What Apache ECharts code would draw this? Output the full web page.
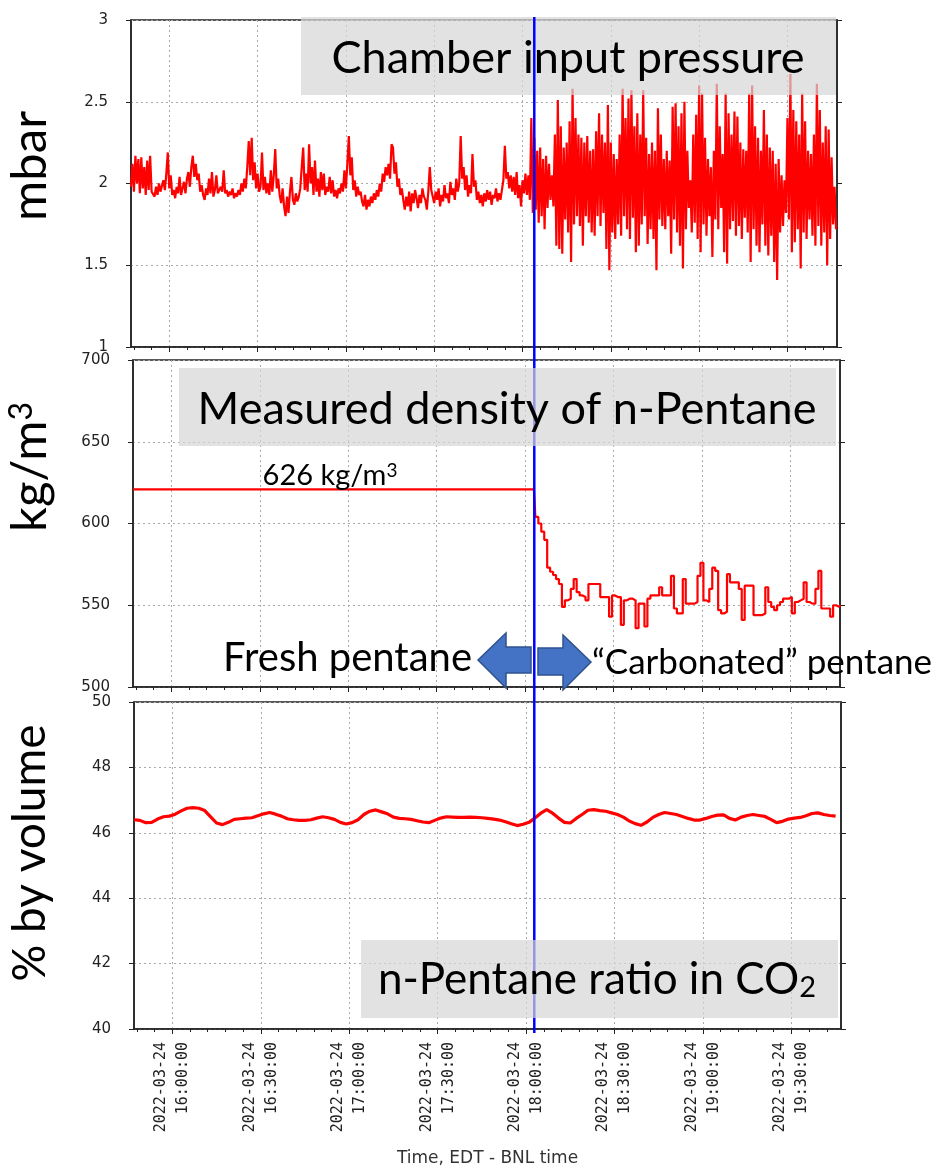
<!DOCTYPE html>
<html>
<head>
<meta charset="utf-8">
<script src="https://cdn.jsdelivr.net/npm/echarts@6/dist/echarts.min.js"></script>
<style>
  html, body { margin: 0; padding: 0; background: #fff; }
  #myChart { width: 940px; height: 1168px; }
</style>
</head>
<body>
<div id="myChart"></div>
<script>
// time range shared by the three panels
const day = '2022-03-24';
const startTime = new Date(day + 'T15:47:00').getTime();
const endTime = new Date(day + 'T19:46:50').getTime();
const changeTime = new Date(day + 'T18:04:00').getTime(); // blue marker
const densityStart = new Date(day + 'T18:03:00').getTime();
const MIN = 60 * 1000;

// labelled time ticks
const timeTicks = ['16:00', '16:30', '17:00', '17:30', '18:00', '18:30', '19:00', '19:30'];

// chamber input pressure, mbar, one reading every 30 s from 15:47:00
const pressure = [
  1.98, 2.12, 1.95, 2.17, 2.00, 2.15, 1.94, 2.16, 1.97, 2.10, 1.93, 2.14, 1.96, 2.17, 1.95,
  1.96, 1.92, 1.98, 1.93, 2.00, 1.95, 1.94, 2.02, 1.96, 2.06, 2.19, 1.97, 2.05, 1.93, 1.96,
  1.91, 1.98, 1.94, 2.04, 1.93, 1.97, 2.01, 1.94, 2.03, 2.07, 1.98, 2.10, 2.17, 2.04, 2.12,
  2.02, 2.06, 1.95, 1.99, 1.93, 1.90, 1.97, 1.93, 2.03, 1.94, 2.07, 1.92, 1.96, 2.05, 1.94,
  1.93, 1.98, 1.95, 2.08, 1.94, 1.96, 1.92, 1.95, 1.93, 1.97, 1.91, 1.94, 1.92, 1.96, 1.93,
  2.00, 1.95, 2.03, 1.97, 2.10, 2.26, 2.05, 2.28, 2.02, 2.13, 1.97, 2.06, 1.95, 1.98, 2.19,
  1.96, 2.04, 1.94, 2.00, 1.93, 2.08, 1.95, 2.05, 2.21, 1.97, 2.03, 1.93, 1.88, 1.97, 1.86,
  1.80, 1.92, 1.82, 1.95, 2.04, 1.90, 1.87, 1.94, 1.89, 1.92, 1.97, 2.10, 2.22, 1.96, 2.06,
  1.95, 2.24, 2.00, 2.10, 1.93, 2.14, 1.95, 2.03, 1.92, 2.07, 1.96, 2.06, 1.93, 1.98, 1.95,
  2.04, 1.94, 2.02, 1.92, 1.96, 1.91, 1.97, 1.94, 2.00, 1.95, 2.08, 1.97, 2.12, 2.29, 2.05,
  2.16, 1.96, 2.02, 1.92, 1.98, 1.93, 1.95, 1.89, 1.86, 1.93, 1.84, 1.90, 1.86, 1.92, 1.88,
  1.94, 1.90, 1.96, 1.92, 2.00, 1.95, 2.06, 2.01, 2.10, 2.05, 2.12, 2.03, 2.24, 2.22, 2.06,
  2.13, 1.98, 2.03, 1.93, 1.97, 1.90, 1.84, 1.92, 1.86, 1.95, 1.83, 1.94, 1.88, 1.96, 1.91,
  1.85, 1.93, 1.88, 1.97, 1.92, 1.90, 1.84, 1.95, 2.10, 1.96, 1.92, 1.88, 1.95, 1.90, 1.97,
  1.86, 1.93, 1.89, 1.99, 1.91, 1.94, 1.88, 2.01, 1.93, 1.97, 1.90, 2.03, 1.95, 2.00, 2.29,
  2.03, 2.10, 1.96, 2.05, 1.92, 1.99, 1.94, 2.18, 1.98, 2.02, 1.90, 1.95, 1.88, 1.93, 1.86,
  1.94, 1.89, 1.96, 1.90, 1.95, 1.87, 1.93, 1.91, 1.97, 1.89, 1.94, 1.90, 1.96, 2.02, 2.23,
  2.03, 2.07, 1.97, 2.05, 1.95, 2.04, 1.93, 2.07, 1.91, 1.99, 1.86, 2.02, 1.94, 2.06, 1.93,
  2.05, 1.90, 2.40,
  // after the switch to carbonated pentane
  1.82, 2.28, 1.84, 2.20, 1.76, 2.22, 1.80, 2.15, 1.72, 2.17, 1.85, 2.12, 1.90, 2.05, 1.86,
  2.30, 1.62, 2.51, 1.60, 2.35, 1.57, 2.22, 1.78, 2.25, 1.70, 2.38, 1.52, 2.58, 1.75, 2.40,
  1.80, 2.30, 1.74, 2.28, 1.62, 2.25, 1.80, 2.29, 1.76, 2.20, 1.70, 2.21, 1.68, 2.32, 1.80,
  2.43, 1.74, 2.30, 1.82, 2.25, 1.60, 2.48, 1.47, 2.25, 1.70, 2.18, 1.66, 2.15, 1.75, 2.30,
  1.68, 2.58, 1.80, 2.40, 1.72, 2.52, 1.66, 2.57, 1.79, 2.35, 1.58, 2.43, 1.62, 2.30, 1.75,
  2.57, 1.80, 2.28, 1.63, 2.18, 1.72, 2.25, 1.66, 2.20, 1.47, 2.46, 1.78, 2.30, 1.74, 2.15,
  1.72, 2.20, 1.80, 2.14, 1.57, 2.47, 1.78, 2.49, 1.70, 2.35, 1.62, 2.43, 1.48, 2.50, 1.72,
  2.20, 1.85, 2.02, 1.70, 2.30, 1.76, 2.42, 1.66, 2.60, 1.58, 2.55, 1.75, 2.28, 1.68, 2.15,
  1.80, 2.10, 1.55, 2.20, 1.78, 2.61, 1.72, 2.35, 1.85, 2.18, 1.58, 2.55, 1.51, 2.43, 1.72,
  2.30, 1.77, 2.44, 1.68, 2.41, 1.74, 2.25, 1.66, 2.21, 1.79, 2.20, 1.70, 2.55, 1.52, 2.60,
  1.72, 2.35, 1.62, 2.28, 1.58, 2.20, 1.75, 2.45, 1.62, 2.30, 1.56, 2.22, 1.68, 2.20, 1.52,
  2.12, 1.41, 2.15, 1.70, 2.05, 1.74, 2.02, 1.82, 2.40, 1.78, 2.67, 1.58, 2.45, 1.64, 2.38,
  1.72, 2.30, 1.48, 2.55, 1.70, 2.38, 1.66, 2.20, 1.78, 2.18, 1.68, 2.30, 1.62, 2.61, 1.74,
  2.45, 1.62, 2.25, 1.70, 2.35, 1.50, 2.33, 1.66, 2.16, 1.75, 1.98, 1.72
];

// density of n-pentane, kg/m3
const densityFresh = 620.9; // flat reading up to 18:03
// one reading per minute from 18:03
const densityCarb = [
  620.9, 604, 600, 595, 590, 573, 570.5, 568.5, 566, 563, 549, 553, 554, 560, 566,
  558, 556, 555, 553, 563, 563, 563, 563, 555, 555, 555, 543, 556, 555, 555,
  538, 553, 554, 554, 553, 536, 551, 551, 537, 554, 556, 556, 556, 561, 556,
  556, 556, 568, 548, 545, 545, 566, 551, 551, 551, 552, 568, 576, 553, 552,
  560, 573, 571, 547, 545, 546, 569, 564, 564, 564, 560, 541, 562, 562, 562,
  544, 544, 544, 545, 561, 552, 549, 547, 550, 552, 554, 554, 555, 545, 552,
  553, 554, 564, 552, 551, 551, 560, 571, 548, 548, 548, 543, 550, 549, 550
];

// n-pentane ratio in CO2, % by volume, every 2 min from 15:47
const ratio = [
  46.40, 46.38, 46.31, 46.32, 46.42, 46.49, 46.51, 46.57, 46.67, 46.75, 46.77, 46.75, 46.68, 46.49, 46.30,
  46.25, 46.32, 46.41, 46.43, 46.45, 46.46, 46.52, 46.58, 46.62, 46.57, 46.51, 46.43, 46.40, 46.38, 46.38,
  46.40, 46.45, 46.49, 46.46, 46.41, 46.32, 46.27, 46.31, 46.40, 46.56, 46.66, 46.70, 46.64, 46.58, 46.48,
  46.44, 46.43, 46.41, 46.37, 46.33, 46.31, 46.38, 46.45, 46.49, 46.48, 46.47, 46.47, 46.48, 46.47, 46.46,
  46.44, 46.42, 46.39, 46.34, 46.28, 46.22, 46.26, 46.32, 46.45, 46.60, 46.71, 46.60, 46.45, 46.32, 46.30,
  46.44, 46.56, 46.69, 46.71, 46.68, 46.66, 46.61, 46.56, 46.48, 46.36, 46.28, 46.23, 46.33, 46.47, 46.56,
  46.62, 46.59, 46.56, 46.50, 46.44, 46.39, 46.39, 46.44, 46.50, 46.54, 46.55, 46.44, 46.39, 46.48, 46.53,
  46.56, 46.53, 46.50, 46.41, 46.31, 46.35, 46.42, 46.45, 46.47, 46.52, 46.59, 46.61, 46.56, 46.53, 46.51
];

// y axis ranges
const pressureAxis = { min: 1, max: 3, interval: 0.5 };
const densityAxis = { min: 500, max: 700, interval: 50 };
const ratioAxis = { min: 40, max: 50, interval: 2 };

const pressureData = pressure.map((v, i) => [startTime + i * 30 * 1000, v]);
const densityData = [[startTime, densityFresh]].concat(
  densityCarb.map((v, i) => [densityStart + i * MIN, v])
);
const ratioData = ratio.map((v, i) => [startTime + i * 2 * MIN, v]);

const majorTicks = timeTicks.map(t => new Date(day + 'T' + t + ':00').getTime());
// minor ticks every 6 minutes
const minorTicks = [];
for (let t = majorTicks[0] - 12 * MIN; t <= endTime; t += 6 * MIN) {
  if (t >= startTime) minorTicks.push(t);
}

const AXIS_COLOR = '#222';
const LABEL_FONT = 'DejaVu Sans';
const NOTE_FONT = 'Lato';

function pad(n) {
  return String(n).padStart(2, '0');
}

function timeLabel(value) {
  const d = new Date(value);
  const date = d.getFullYear() + '-' + pad(d.getMonth() + 1) + '-' + pad(d.getDate());
  // leading spaces keep both lines starting at the same place
  return date + '\n  ' + pad(d.getHours()) + ':' + pad(d.getMinutes()) + ':' + pad(d.getSeconds());
}

function makeXAxes(gridIndex, withLabels) {
  const axis = {
    type: 'value',
    gridIndex: gridIndex,
    position: 'bottom',
    min: startTime,
    max: endTime,
    axisLine: { lineStyle: { color: AXIS_COLOR, width: 1.5 } },
    axisTick: { show: true, length: 5, customValues: majorTicks, lineStyle: { color: AXIS_COLOR } },
    splitLine: { show: true, lineStyle: { color: '#aaa', type: [2, 3] } },
    axisLabel: { show: false }
  };
  if (withLabels) {
    axis.axisLabel = {
      show: true,
      customValues: majorTicks,
      rotate: 90,
      margin: 13,
      formatter: timeLabel,
      fontFamily: 'DejaVu Sans Mono',
      fontSize: 15,
      lineHeight: 22,
      color: '#222'
    };
    axis.name = 'Time, EDT - BNL time';
    axis.nameLocation = 'middle';
    axis.nameGap = 121;
    axis.nameTextStyle = { fontFamily: LABEL_FONT, fontSize: 17, color: '#333' };
  }
  // second axis on the same line, only for the small ticks
  const minor = {
    type: 'value',
    gridIndex: gridIndex,
    position: 'bottom',
    min: startTime,
    max: endTime,
    axisLine: { show: false },
    axisTick: { show: true, length: 3, customValues: minorTicks, lineStyle: { color: AXIS_COLOR } },
    splitLine: { show: false },
    axisLabel: { show: false }
  };
  return [axis, minor];
}

function makeYAxes(gridIndex, range) {
  const left = {
    type: 'value',
    gridIndex: gridIndex,
    min: range.min,
    max: range.max,
    interval: range.interval,
    axisLine: { show: true, lineStyle: { color: AXIS_COLOR, width: 1.5 } },
    axisTick: { show: true, length: 5, lineStyle: { color: AXIS_COLOR } },
    splitLine: { show: true, lineStyle: { color: '#aaa', type: [2, 3] } },
    axisLabel: { margin: 23, fontFamily: LABEL_FONT, fontSize: 15, color: '#222' }
  };
  const right = {
    type: 'value',
    gridIndex: gridIndex,
    position: 'right',
    min: range.min,
    max: range.max,
    interval: range.interval,
    axisLine: { show: true, lineStyle: { color: AXIS_COLOR, width: 1.5 } },
    axisTick: { show: true, length: 5, lineStyle: { color: AXIS_COLOR } },
    splitLine: { show: false },
    axisLabel: { show: false }
  };
  return [left, right];
}

function lineSeries(name, data, gridIndex, width, step) {
  return {
    name: name,
    type: 'line',
    xAxisIndex: gridIndex * 2,
    yAxisIndex: gridIndex * 2,
    data: data,
    step: step || false,
    symbol: 'none',
    lineStyle: { color: '#ff0000', width: width },
    itemStyle: { color: '#ff0000' }
  };
}

const gridStyle = { show: true, borderColor: AXIS_COLOR, borderWidth: 1.5, backgroundColor: 'transparent' };

let myChart = echarts.init(document.getElementById('myChart'));
myChart.setOption({
  animation: false,
  backgroundColor: '#fff',
  grid: [
    Object.assign({ left: 131, top: 20, width: 706, height: 327 }, gridStyle),
    Object.assign({ left: 133, top: 360, width: 707, height: 327 }, gridStyle),
    Object.assign({ left: 134, top: 702, width: 707, height: 327 }, gridStyle)
  ],
  xAxis: [].concat(makeXAxes(0, false), makeXAxes(1, false), makeXAxes(2, true)),
  yAxis: [].concat(
    makeYAxes(0, pressureAxis),
    makeYAxes(1, densityAxis),
    makeYAxes(2, ratioAxis)
  ),
  series: [
    lineSeries('Chamber input pressure', pressureData, 0, 2.2),
    lineSeries('Measured density of n-Pentane', densityData, 1, 2.2, 'middle'),
    lineSeries('n-Pentane ratio in CO2', ratioData, 2, 3.2)
  ]
});

// annotations on top of the panels
const markX = myChart.convertToPixel({ xAxisIndex: 0 }, changeTime);
const boxFill = 'rgba(213,213,213,0.7)';

// text with an optional raised (sup) or lowered (sub) tail
function note(text, x, y, size, align, tail, tailPos) {
  const style = {
    text: tail ? '{a|' + text + '}{t|' + tail + '}' : text,
    font: size + 'px ' + NOTE_FONT,
    fill: '#000',
    align: align || 'center',
    verticalAlign: 'middle',
    textAlign: align || 'center',
    textVerticalAlign: 'middle'
  };
  if (tail) {
    style.rich = {
      a: { fontFamily: NOTE_FONT, fontSize: size, fill: '#000', color: '#000' },
      t: {
        fontFamily: NOTE_FONT, fontSize: Math.round(size * 0.65), fill: '#000', color: '#000',
        verticalAlign: tailPos === 'sub' ? 'bottom' : 'top'
      }
    };
  }
  return { type: 'text', x: x, y: y, z: 110, style: style };
}

function axisTitle(text, y, size, tail) {
  const t = note(text, 30, y, size, 'center', tail, 'sup');
  t.rotation = Math.PI / 2;
  return t;
}

myChart.setOption({
  graphic: [
    { type: 'rect', z: 100, shape: { x: 301, y: 17, width: 535, height: 78 }, style: { fill: boxFill } },
    { type: 'line', z: 101, shape: { x1: markX, y1: 17, x2: markX, y2: 1033 }, style: { stroke: '#0000ff', lineWidth: 2.5 } },
    { type: 'rect', z: 102, shape: { x: 179, y: 368, width: 657, height: 78 }, style: { fill: boxFill } },
    { type: 'rect', z: 102, shape: { x: 361, y: 940, width: 477, height: 78 }, style: { fill: boxFill } },
    note('Chamber input pressure', 568, 58, 45),
    note('Measured density of n-Pentane', 507, 409, 45),
    note('n-Pentane ratio in CO', 597, 980, 44, 'center', '2', 'sub'),
    note('626 kg/m', 330, 476, 29, 'center', '3', 'sup'),
    note('Fresh pentane', 472, 658, 40, 'right'),
    note('“Carbonated” pentane', 592, 663, 35, 'left'),
    {
      type: 'polygon', z: 103,
      shape: { points: [[478, 660], [506, 633], [506, 647], [531, 647], [531, 673], [506, 673], [506, 688]] },
      style: { fill: '#4472c4', stroke: '#2f528f', lineWidth: 1.5 }
    },
    {
      type: 'polygon', z: 103,
      shape: { points: [[538, 648], [563, 648], [563, 635], [591, 662], [563, 690], [563, 675], [538, 675]] },
      style: { fill: '#4472c4', stroke: '#2f528f', lineWidth: 1.5 }
    },
    axisTitle('mbar', 166, 49),
    axisTitle('kg/m', 467, 49, '3'),
    axisTitle('% by volume', 853, 46)
  ]
});
</script>
</body>
</html>
